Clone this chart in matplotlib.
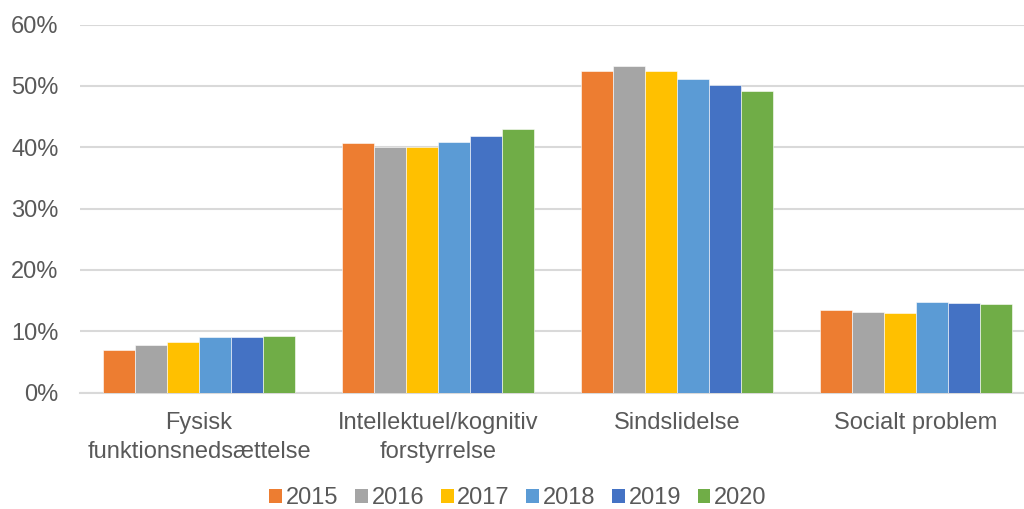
import numpy as np
import matplotlib
matplotlib.use('Agg')
import matplotlib.pyplot as plt
from matplotlib.patches import Patch
from matplotlib.ticker import PercentFormatter

plt.rcParams['font.family'] = ['Liberation Sans', 'DejaVu Sans']

# Data
categories = ['Fysisk\nfunktionsnedsættelse', 'Intellektuel/kognitiv\nforstyrrelse',
              'Sindslidelse', 'Socialt problem']
years = ['2015', '2016', '2017', '2018', '2019', '2020']
values = {
    '2015': [0.069, 0.406, 0.524, 0.134],
    '2016': [0.077, 0.400, 0.533, 0.132],
    '2017': [0.083, 0.401, 0.524, 0.129],
    '2018': [0.090, 0.409, 0.511, 0.148],
    '2019': [0.090, 0.419, 0.502, 0.146],
    '2020': [0.092, 0.430, 0.491, 0.144],
}
colors = ['#ED7D31', '#A5A5A5', '#FFC000', '#5B9BD5', '#4472C4', '#70AD47']

text_color = '#595959'
fs = 17

fig = plt.figure(figsize=(10.24, 5.09), dpi=100)
ax = fig.add_axes([79.5 / 1024, 1 - 392.5 / 509, 956 / 1024, 368 / 509])

x = np.arange(len(categories))
width = 0.8 / len(years)
for i, (yr, c) in enumerate(zip(years, colors)):
    offs = (i - (len(years) - 1) / 2) * width
    ax.bar(x + offs, values[yr], width, color=c, edgecolor='white', linewidth=0.4, zorder=3)

ax.set_xlim(-0.5, len(categories) - 0.5)
ax.set_ylim(0, 0.6)
ax.set_yticks(np.arange(0, 0.61, 0.1))
ax.yaxis.set_major_formatter(PercentFormatter(1.0, decimals=0))
ax.set_xticks(x)
ax.set_xticklabels(categories, fontsize=fs, color=text_color, linespacing=1.42)
ax.tick_params(axis='y', labelsize=fs, labelcolor=text_color, length=0, pad=15)
ax.tick_params(axis='x', length=0, pad=14)

ax.grid(axis='y', color='#D9D9D9', linewidth=1.5, zorder=0)
for s in ['top', 'right', 'left']:
    ax.spines[s].set_visible(False)
ax.spines['bottom'].set_color('#D9D9D9')
ax.spines['bottom'].set_linewidth(1.5)

handles = [Patch(facecolor=c, edgecolor='none', label=yr) for yr, c in zip(years, colors)]
fig.legend(handles=handles, loc='center', bbox_to_anchor=(518 / 1024, 1 - 498 / 509),
           ncol=len(years), frameon=False, fontsize=fs, labelcolor=text_color,
           handlelength=0.55, handleheight=0.55, handletextpad=0.15, columnspacing=0.7,
           borderpad=0, borderaxespad=0)

fig.savefig('out.png', dpi=100)
